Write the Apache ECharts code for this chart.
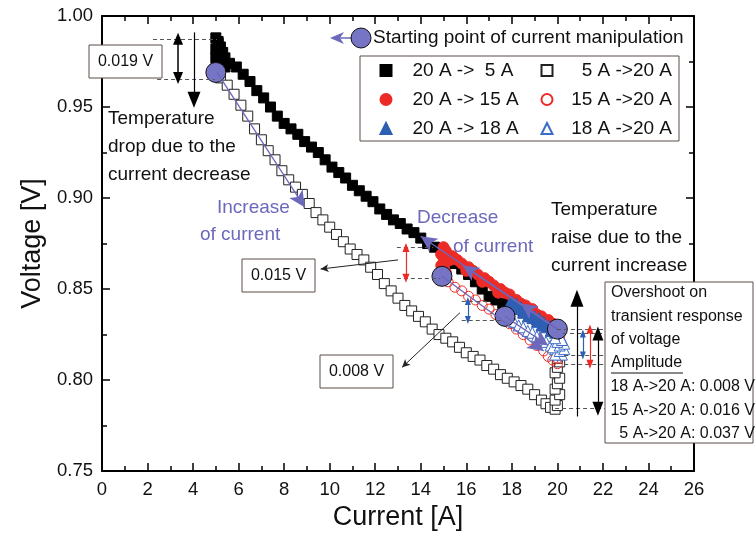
<!DOCTYPE html>
<html>
<head>
<meta charset="utf-8">
<script src="https://cdn.jsdelivr.net/npm/echarts@6/dist/echarts.min.js"></script>
<style>
html, body { margin: 0; padding: 0; background: #fff; }
#main { width: 756px; height: 536px; }
</style>
</head>
<body>
<div id="main"></div>
<script>
var FONT = '"Liberation Sans", Arial, sans-serif';

// legend names
var legendNames = ['20 A ->  5 A', '5 A ->20 A', '20 A -> 15 A', '15 A ->20 A', '20 A -> 18 A', '18 A ->20 A'];
var rightCol = ['5 A ->20 A', '15 A ->20 A', '18 A ->20 A'];

// current [A], voltage [V]
var down20to5 = [[20.0,0.828],[19.7,0.829],[19.4,0.831],[19.1,0.833],[18.8,0.835],[18.5,0.837],[18.2,0.839],[17.9,0.841],
	[17.6,0.842],[17.3,0.844],[17.0,0.846],[16.7,0.850],[16.4,0.854],[16.1,0.858],[15.8,0.861],[15.5,0.864],[15.2,0.868],
	[14.9,0.871],[14.6,0.873],[14.3,0.875],[14.0,0.878],[13.7,0.881],[13.4,0.883],[13.1,0.886],[12.8,0.888],[12.5,0.891],
	[12.2,0.894],[11.9,0.898],[11.6,0.901],[11.3,0.904],[11.0,0.907],[10.7,0.911],[10.4,0.914],[10.1,0.917],[9.8,0.921],
	[9.5,0.925],[9.2,0.928],[8.9,0.931],[8.6,0.935],[8.3,0.938],[8.0,0.941],[7.7,0.945],[7.4,0.950],[7.1,0.955],[6.8,0.959],
	[6.5,0.964],[6.2,0.968],[5.9,0.972],[5.6,0.974],[5.4,0.977],[5.3,0.980],[5.2,0.983],[5.1,0.986],[5.0,0.988],[5.1,0.985],
	[5.0,0.982],[5.2,0.979],[5.0,0.977],[5.3,0.975],[5.1,0.973],[5.4,0.972],[5.0,0.971]];
var up5to20 = [[5.0,0.969],[5.2,0.966],[5.5,0.962],[5.8,0.957],[6.1,0.951],[6.4,0.945],[6.7,0.938],[7.0,0.932],[7.3,0.926],
	[7.6,0.921],[7.9,0.915],[8.2,0.910],[8.5,0.906],[8.8,0.902],[9.1,0.897],[9.4,0.892],[9.7,0.888],[10.0,0.884],[10.3,0.880],
	[10.6,0.876],[10.9,0.872],[11.2,0.869],[11.5,0.866],[11.8,0.862],[12.1,0.858],[12.4,0.853],[12.7,0.849],[13.0,0.845],
	[13.3,0.841],[13.6,0.838],[13.9,0.835],[14.2,0.832],[14.5,0.828],[14.8,0.825],[15.1,0.823],[15.4,0.821],[15.7,0.818],
	[16.0,0.815],[16.3,0.813],[16.6,0.811],[16.9,0.808],[17.2,0.806],[17.5,0.803],[17.8,0.801],[18.1,0.799],[18.4,0.797],
	[18.7,0.795],[19.0,0.792],[19.3,0.789],[19.5,0.787],[19.7,0.785],[19.9,0.784],[20.0,0.786],[19.9,0.789],[20.1,0.792],
	[19.9,0.795],[20.0,0.798],[20.1,0.801],[19.9,0.804],[20.0,0.807],[20.1,0.810],[20.0,0.812]];
var down20to15 = [[20.0,0.829],[19.8,0.831],[19.6,0.833],[19.5,0.831],[19.3,0.835],[19.1,0.836],[18.9,0.839],[18.8,0.837],
	[18.6,0.841],[18.4,0.842],[18.2,0.844],[18.1,0.842],[17.9,0.847],[17.7,0.848],[17.5,0.850],[17.4,0.848],[17.2,0.852],
	[17.0,0.854],[16.8,0.856],[16.7,0.854],[16.5,0.858],[16.3,0.860],[16.1,0.862],[16.0,0.860],[15.8,0.864],[15.6,0.866],
	[15.4,0.868],[15.3,0.866],[15.1,0.870],[15.0,0.873],[15.1,0.871],[14.9,0.869],[15.0,0.867],[15.1,0.865],[14.9,0.863],
	[15.0,0.861],[15.1,0.859],[14.9,0.858]];
var up15to20 = [[15.0,0.857],[15.2,0.854],[15.5,0.851],[15.8,0.849],[16.1,0.846],[16.4,0.844],[16.7,0.841],[17.0,0.839],
	[17.3,0.836],[17.6,0.834],[17.9,0.831],[18.2,0.828],[18.5,0.825],[18.8,0.822],[19.1,0.819],[19.4,0.816],[19.6,0.813],
	[19.8,0.811],[20.0,0.809],[20.0,0.812],[20.1,0.815],[20.0,0.818],[20.0,0.821],[20.1,0.824],[20.0,0.825]];
var down20to18 = [[20.0,0.827],[19.9,0.826],[19.8,0.829],[19.7,0.827],[19.6,0.830],[19.5,0.829],[19.4,0.832],[19.3,0.830],
	[19.2,0.834],[19.1,0.832],[19.0,0.835],[18.9,0.834],[18.8,0.837],[18.7,0.835],[18.6,0.838],[18.5,0.837],[18.4,0.840],
	[18.3,0.839],[18.2,0.842],[18.1,0.841],[18.0,0.843],[17.9,0.842],[17.9,0.840],[17.8,0.839],[17.9,0.838],[17.8,0.837]];
var up18to20 = [[17.7,0.835],[17.9,0.833],[18.1,0.832],[18.3,0.830],[18.5,0.829],[18.7,0.827],[18.9,0.826],[19.1,0.824],
	[19.3,0.822],[19.5,0.821],[19.7,0.819],[19.9,0.817],[20.0,0.815],[20.2,0.814],[19.9,0.814],[20.1,0.816],[20.3,0.817],
	[19.8,0.818],[20.1,0.819],[20.3,0.820],[20.0,0.821],[20.2,0.822],[19.9,0.823]];
var startPoints = [[5.0,0.969],[14.93,0.857],[17.7,0.835],[20.0,0.828]];

var PURPLE = '#6c68bb';
var RED = '#ec2b27';
var BLUE = '#2e5fb3';
var DASH = '#555';

var chartDom = document.getElementById('main');
var myChart = echarts.init(chartDom, null, {renderer: 'canvas'});

// one annotation segment in data coordinates
function seg(a, b, head1, head2, size, color, width, type) {
	return [{
		coord : a,
		symbol : head1 || 'none',
		symbolSize : size,
		lineStyle : {color : color, width : width, type : type || 'solid'}
	}, {
		coord : b,
		symbol : head2 || 'none',
		symbolSize : size
	}];
}
function dash(x1, x2, y) {
	return seg([x1, y], [x2, y], 'none', 'none', 1, DASH, 1, [4, 3]);
}

var purpleArrows = [
	seg([20.0,0.828], [14.0,0.879], 'none', 'arrow', [12,16], PURPLE, 1.3),
	seg([20.0,0.828], [15.85,0.863], 'none', 'arrow', [12,16], PURPLE, 1.3),
	seg([20.0,0.828], [18.4,0.842], 'none', 'arrow', [12,16], PURPLE, 1.3),
	seg([14.93,0.857], [19.4,0.816], 'none', 'arrow', [12,16], PURPLE, 1.3),
	seg([17.7,0.835], [19.6,0.819], 'none', 'arrow', [12,16], PURPLE, 1.3),
	seg([5.05,0.969], [8.9,0.895], 'none', 'arrow', [12,16], PURPLE, 1.3)
];

var blackMarks = [
	dash(2.24, 5.05, 0.9875), dash(2.42, 4.96, 0.965),
	seg([3.34,0.9875], [3.34,0.966], 'triangle', 'triangle', [10,12], '#000', 1.5),
	seg([4.04,0.991], [4.04,0.954], 'none', 'triangle', [13,16], '#000', 1.2),
	dash(12.95, 14.55, 0.8728), dash(12.95, 14.85, 0.856),
	seg([13.35,0.8728], [13.35,0.856], 'triangle', 'triangle', [7,9], RED, 1.2),
	dash(15.8, 17.0, 0.8434), dash(15.8, 17.5, 0.833),
	seg([16.07,0.8434], [16.07,0.833], 'triangle', 'triangle', [6,8], BLUE, 1.2),
	seg([13.0,0.866], [9.6,0.861], 'none', 'arrow', [6,8], '#222', 1),
	seg([15.72,0.837], [13.18,0.807], 'none', 'arrow', [6,8], '#222', 1),
	dash(19.98, 22.09, 0.828), dash(20.25, 22.09, 0.8256), dash(20.3, 22.09, 0.8135),
	dash(20.3, 22.09, 0.8087), dash(19.9, 22.09, 0.7843),
	seg([20.86,0.780], [20.86,0.845], 'none', 'triangle', [13,17], '#000', 1.2),
	seg([21.12,0.8256], [21.12,0.8135], 'triangle', 'triangle', [6,8], BLUE, 1.2),
	seg([21.43,0.828], [21.43,0.8087], 'triangle', 'triangle', [7,9], RED, 1.2),
	seg([21.78,0.8256], [21.78,0.7843], 'triangle', 'triangle', [11,14], '#000', 1.2)
];

var axisCommon = {
	axisLine : {show : true, onZero : false, lineStyle : {color : '#000', width : 2}},
	axisTick : {show : true, inside : true, length : 8, lineStyle : {color : '#000', width : 1.5}},
	minorTick : {show : true, splitNumber : 2, length : 5, lineStyle : {color : '#000', width : 1.5}},
	splitLine : {show : false},
	minorSplitLine : {show : false}
};

function scatter(name, data, symbol, size, fill, border, z) {
	return {
		name : name,
		type : 'scatter',
		data : data,
		symbol : symbol,
		symbolSize : size,
		z : z,
		itemStyle : {color : fill, borderColor : border, borderWidth : 1, opacity : 1},
		emphasis : {disabled : true},
		animation : false
	};
}

var option = {
	animation : false,
	grid : {left : 102, right : 62, top : 16, bottom : 59},
	legend : {
		data : legendNames,
		left : 360,
		top : 56,
		width : 295,
		orient : 'horizontal',
		padding : [5, 7, 3, 19.5],
		itemGap : 10,
		itemWidth : 11,
		itemHeight : 11,
		borderColor : '#5b4c44',
		borderWidth : 1,
		backgroundColor : '#fff',
		selectedMode : false,
		formatter : function(name) {
			if (rightCol.indexOf(name) >= 0) {
				return '{r|' + name + '}';
			}
			return '{g| }{l|' + name + '}';
		},
		textStyle : {
			fontFamily : FONT,
			fontSize : 19,
			color : '#111',
			rich : {
				g : {width : 16, fontSize : 19, lineHeight : 18},
				l : {width : 118, fontSize : 19, lineHeight : 18, fontFamily : FONT, color : '#111'},
				r : {width : 114.5, align : 'right', fontSize : 19, lineHeight : 18, fontFamily : FONT, color : '#111'}
			}
		}
	},
	xAxis : [Object.assign({
		type : 'value',
		min : 0,
		max : 26,
		interval : 2,
		position : 'bottom',
		name : 'Current [A]',
		nameLocation : 'middle',
		nameGap : 29,
		nameTextStyle : {fontFamily : FONT, fontSize : 27, color : '#111'},
		axisLabel : {fontFamily : FONT, fontSize : 18.5, color : '#111', margin : 9}
	}, axisCommon), Object.assign({
		type : 'value',
		min : 0,
		max : 26,
		interval : 2,
		position : 'top',
		axisLabel : {show : false}
	}, axisCommon)],
	yAxis : [Object.assign({
		type : 'value',
		min : 0.75,
		max : 1.00,
		interval : 0.05,
		position : 'left',
		name : 'Voltage [V]',
		nameLocation : 'middle',
		nameGap : 55,
		nameTextStyle : {fontFamily : FONT, fontSize : 27, color : '#111'},
		axisLabel : {fontFamily : FONT, fontSize : 18.5, color : '#111', margin : 9,
			formatter : function(v) { return v.toFixed(2); }}
	}, axisCommon), Object.assign({
		type : 'value',
		min : 0.75,
		max : 1.00,
		interval : 0.05,
		position : 'right',
		axisLabel : {show : false}
	}, axisCommon)],
	series : [
		scatter('5 A ->20 A', up5to20, 'rect', 10, '#fff', '#222', 2),
		scatter('20 A ->  5 A', down20to5, 'rect', 10, '#000', '#000', 2),
		scatter('20 A -> 15 A', down20to15, 'circle', 11, RED, RED, 2),
		scatter('15 A ->20 A', up15to20, 'circle', 10, 'rgba(255,255,255,0)', RED, 2),
		scatter('20 A -> 18 A', down20to18, 'triangle', 11, BLUE, BLUE, 2),
		scatter('18 A ->20 A', up18to20, 'triangle', 11, '#fff', '#3b6cc6', 2),
		{
			name : 'arrows',
			type : 'scatter',
			data : [],
			z : 3,
			markLine : {silent : true, animation : false, label : {show : false}, data : purpleArrows}
		},
		scatter('start', startPoints, 'circle', 20, '#7674c4', '#111', 4),
		{
			name : 'notes',
			type : 'scatter',
			data : [],
			z : 5,
			markLine : {silent : true, animation : false, label : {show : false}, data : blackMarks}
		}
	],
	graphic : [
		// starting point key
		{type : 'line', shape : {x1 : 352, y1 : 38, x2 : 338, y2 : 38}, style : {stroke : PURPLE, lineWidth : 1.5}, z : 10},
		{type : 'polygon', shape : {points : [[330,38],[344,32],[340,38],[344,44]]}, style : {fill : PURPLE}, z : 10},
		{type : 'circle', shape : {cx : 361, cy : 38, r : 10}, style : {fill : '#7674c4', stroke : '#111', lineWidth : 1}, z : 10},
		{type : 'text', left : 373, top : 28, style : {text : 'Starting point of current manipulation', font : '19px ' + FONT, fill : '#111'}, z : 10},
		// value boxes
		{type : 'rect', shape : {x : 89, y : 45, width : 73, height : 33}, style : {fill : '#fff', stroke : '#5b4c44', lineWidth : 1}, z : 10},
		{type : 'text', x : 125.5, y : 61.5, style : {text : '0.019 V', font : '16px ' + FONT, fill : '#111', align : 'center', verticalAlign : 'middle'}, z : 11},
		{type : 'rect', shape : {x : 242, y : 259, width : 73, height : 33}, style : {fill : '#fff', stroke : '#5b4c44', lineWidth : 1}, z : 10},
		{type : 'text', x : 278.5, y : 275.5, style : {text : '0.015 V', font : '16px ' + FONT, fill : '#111', align : 'center', verticalAlign : 'middle'}, z : 11},
		{type : 'rect', shape : {x : 320, y : 355, width : 73, height : 33}, style : {fill : '#fff', stroke : '#5b4c44', lineWidth : 1}, z : 10},
		{type : 'text', x : 356.5, y : 371.5, style : {text : '0.008 V', font : '16px ' + FONT, fill : '#111', align : 'center', verticalAlign : 'middle'}, z : 11},
		// notes
		{type : 'text', x : 108, y : 105, style : {text : 'Temperature\ndrop due to the\ncurrent decrease', font : '19px ' + FONT, lineHeight : 28, fill : '#111'}, z : 10},
		{type : 'text', x : 551, y : 196, style : {text : 'Temperature\nraise due to the\ncurrent increase', font : '19px ' + FONT, lineHeight : 28, fill : '#111'}, z : 10},
		{type : 'text', x : 217, y : 208, style : {text : 'Increase', font : '19px ' + FONT, fill : PURPLE, verticalAlign : 'middle'}, z : 10},
		{type : 'text', x : 200, y : 235, style : {text : 'of current', font : '19px ' + FONT, fill : PURPLE, verticalAlign : 'middle'}, z : 10},
		{type : 'text', x : 417, y : 218, style : {text : 'Decrease', font : '19px ' + FONT, fill : PURPLE, verticalAlign : 'middle'}, z : 10},
		{type : 'text', x : 453, y : 247, style : {text : 'of current', font : '19px ' + FONT, fill : PURPLE, verticalAlign : 'middle'}, z : 10},
		// overshoot box
		{type : 'rect', shape : {x : 605, y : 282, width : 148, height : 161}, style : {fill : '#fff', stroke : '#5b4c44', lineWidth : 1}, z : 10},
		{type : 'text', x : 611, y : 281, style : {text : 'Overshoot on\ntransient response\nof voltage\nAmplitude', font : '16px ' + FONT, lineHeight : 23.4, fill : '#111'}, z : 11},
		{type : 'line', shape : {x1 : 611, y1 : 373, x2 : 683, y2 : 373}, style : {stroke : '#111', lineWidth : 1}, z : 11},
		{type : 'text', x : 755, y : 375, style : {text : '18 A->20 A: 0.008 V\n15 A->20 A: 0.016 V\n5 A->20 A: 0.037 V', font : '16px ' + FONT, lineHeight : 23.4, fill : '#111', align : 'right'}, z : 11}
	]
};

option && myChart.setOption(option);
</script>
</body>
</html>
